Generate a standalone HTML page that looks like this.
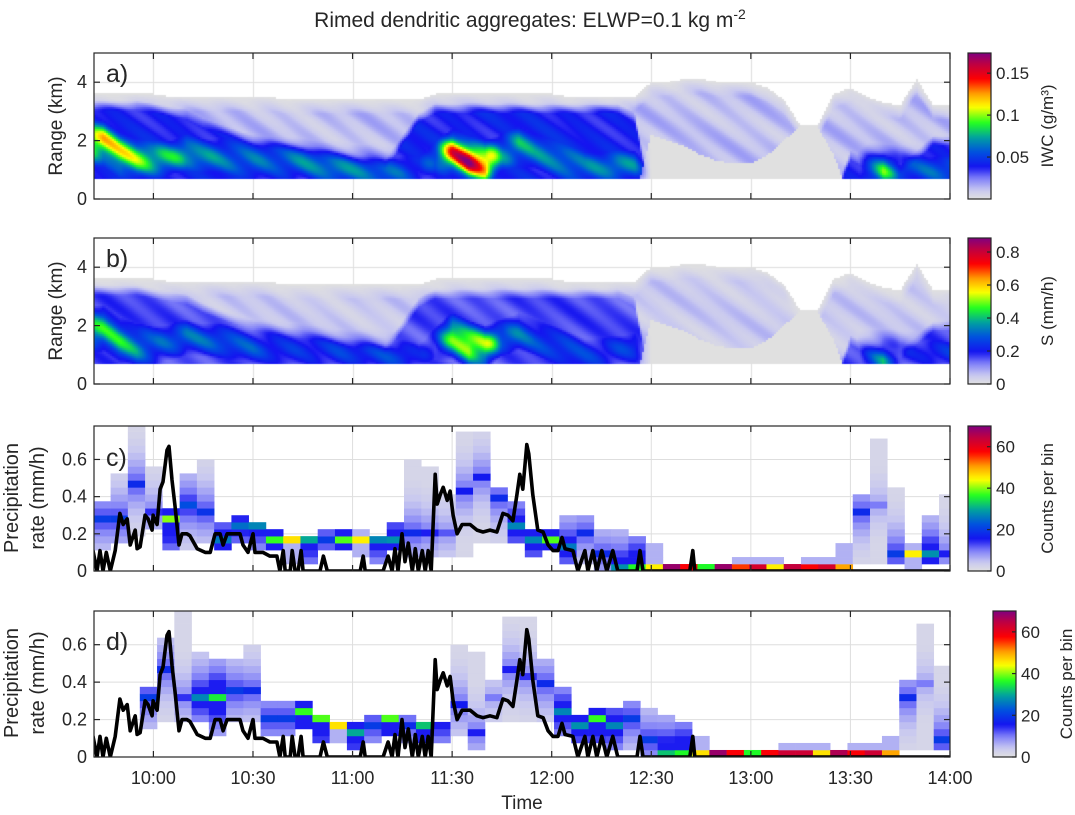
<!DOCTYPE html>
<html><head><meta charset="utf-8"><style>
body{margin:0;background:#fff;}
#wrap{position:relative;width:1075px;height:815px;overflow:hidden;font-family:"Liberation Sans",Arial,sans-serif;}
canvas{position:absolute;}
svg{position:absolute;left:0;top:0;}
text{font-family:"Liberation Sans",Arial,sans-serif;fill:#262626;}
</style></head><body>
<div id="wrap">
<canvas id="ca" width="856" height="146" style="left:94px;top:53px"></canvas>
<canvas id="cb" width="856" height="146" style="left:94px;top:238px"></canvas>
<svg id="svg" width="1075" height="815"></svg>
</div>
<script>
// ---------- data ----------
const radarT0 = 45, radarDT = 5;
const radarTop = [3.6,3.6,3.6,3.6,3.5,3.5,3.5,3.5,3.5,3.5,3.5,3.4,3.4,3.4,3.4,3.4,3.4,3.4,3.4,3.4,3.6,3.6,3.6,3.6,3.6,3.6,3.6,3.6,3.5,3.5,3.5,3.5,3.5,4.0,4.0,4.1,4.1,4.0,4.0,4.0,3.8,3.4,2.5,2.5,3.6,3.8,3.5,3.3,3.2,4.1,3.2];
const radarBlueTop = [3.2,3.2,3.2,3.1,3.0,2.9,2.6,2.4,2.2,2.0,1.9,1.8,1.7,1.6,1.5,1.4,1.3,1.2,2.0,2.8,3.1,3.1,3.1,3.1,3.1,3.1,3.1,3.1,3.1,3.1,3.1,3.1,2.8,0,0,0,0,0,0,0,0,0,0,0,0,1.5,1.2,1.0,1.0,1.5,2.0];
const radarLowGray = [0,0,0,0,0,0,0,0,0,0,0,0,0,0,0,0,0,0,0,0,0,0,0,0,0,0,0,0,0,0,0,0,0,2.2,2.0,1.8,1.5,1.3,1.2,1.2,1.5,2.0,2.5,2.5,1.5,0,0,0,0,0,0];
const radarPeak = [0.11,0.105,0.09,0.07,0.06,0.06,0.055,0.055,0.055,0.055,0.05,0.05,0.05,0.05,0.05,0.045,0.045,0.045,0.045,0.035,0.045,0.12,0.145,0.12,0.06,0.07,0.06,0.06,0.06,0.055,0.05,0.05,0.045,0,0,0,0,0,0,0,0,0,0,0,0,0,0.045,0.09,0.04,0.035,0.04];
const radarPeakH = [1.9,1.5,1.3,1.3,1.4,1.6,1.5,1.5,1.4,1.3,1.3,1.2,1.2,1.1,1.0,1.0,1.0,0.9,1.0,1.0,1.4,1.6,1.3,1.2,1.6,1.8,1.6,1.4,1.2,1.0,1.0,1.1,1.2,1,1,1,1,1,1,1,1,1,1,1,1,1,1.0,0.9,1.0,1.0,1.0];

const lineT = [41.8,43.0,43.9,44.8,45.8,47.0,48.5,49.9,50.9,52.1,53.0,54.5,55.1,56.0,57.5,58.4,59.6,59.9,61.1,62.0,62.9,64.1,64.7,65.6,66.5,67.7,68.6,70.1,71.0,73.2,75.6,77.1,78.6,80.1,81.0,82.2,86.1,87.0,88.5,90.0,90.6,93.0,95.1,97.2,98.1,99.1,99.7,101.2,101.8,102.7,103.6,104.5,105.1,110.2,111.2,112.4,122.3,123.2,123.8,129.2,130.7,131.9,132.8,133.7,134.9,135.8,136.8,138.0,138.9,139.8,141.0,141.9,142.8,143.7,144.9,145.5,146.4,147.3,148.5,149.4,150.3,151.5,153.0,155.4,157.5,159.3,161.4,163.5,165.3,166.8,168.3,169.5,170.4,171.3,172.5,173.1,174.3,175.8,177.4,178.9,180.4,181.9,183.1,184.0,186.4,187.9,190.0,190.9,192.4,193.6,195.1,196.6,198.4,199.9,205.7,206.6,207.5,221.6,222.5,223.1,300];
const lineV = [0.11,0,0.11,0,0.1,0,0.11,0.31,0.25,0.28,0.14,0.22,0.12,0.13,0.3,0.28,0.22,0.3,0.25,0.44,0.48,0.65,0.67,0.49,0.35,0.14,0.2,0.2,0.19,0.12,0.1,0.1,0.2,0.2,0.14,0.2,0.2,0.14,0.1,0.2,0.1,0.1,0.08,0.08,0,0.11,0,0,0.11,0,0,0.11,0,0,0.08,0,0,0.08,0,0,0.08,0,0.12,0,0.2,0.05,0.15,0,0.12,0,0.11,0,0.11,0,0.52,0.36,0.41,0.45,0.38,0.43,0.3,0.2,0.25,0.25,0.22,0.21,0.22,0.21,0.31,0.3,0.27,0.41,0.52,0.44,0.68,0.63,0.41,0.22,0.21,0.14,0.11,0.11,0.18,0.12,0.11,0,0.11,0,0.11,0,0.11,0,0.11,0,0,0.11,0,0,0.11,0,0];

const cBinStart = 41.9, binW = 5.2, rowH = 0.0375;
const cLo = [0.13,0.15,0.2,0.24,0.12,0.14,0.16,0.13,0.17,0.13,0.12,0.07,0.07,0.13,0.13,0.1,0.07,0.13,0.1,0.1,0.1,0.1,0.18,0.15,0.15,0.1,0.12,0.07,0.07,0.02,0,0,0,0,0,0,0,0,0,0,0,0,0,0,0.04,0.04,0.04,0,0.04,0.04];
const cHi = [0.34,0.5,0.78,0.55,0.33,0.5,0.59,0.25,0.29,0.25,0.21,0.18,0.18,0.21,0.21,0.21,0.18,0.25,0.59,0.55,0.4,0.74,0.74,0.45,0.34,0.21,0.21,0.27,0.3,0.21,0.21,0.18,0.14,0.03,0.03,0.03,0.03,0.07,0.07,0.07,0.03,0.07,0.07,0.14,0.39,0.7,0.45,0.14,0.3,0.38];
const cMode = [0.29,0.29,0.45,0.32,0.29,0.36,0.31,0.17,0.23,0.23,0.18,0.15,0.15,0.17,0.17,0.15,0.15,0.17,0.21,0.21,0.22,0.43,0.5,0.38,0.25,0.15,0.17,0.13,0.22,0.1,0.01,0.01,0.01,0.01,0.01,0.01,0.01,0.01,0.01,0.01,0.01,0.01,0.01,0.01,0.3,0.35,0.08,0.08,0.08,0.08];
const cCnt = [20,20,18,14,40,22,19,26,25,27,37,46,30,20,38,45,27,28,18,15,12,16,16,18,27,27,38,26,18,18,28,36,45,68,58,36,68,55,62,45,64,58,62,50,18,10,20,45,28,15];

const dBinStart = 40.3;
const dLo = [0,0,0,0.16,0.22,0.22,0.22,0.13,0.22,0.22,0.12,0.12,0.16,0.09,0.09,0.05,0.09,0.12,0.09,0.09,0.09,0.12,0.05,0.22,0.22,0.22,0.22,0.14,0.1,0.1,0.05,0.05,0,0,0,0,0,0,0,0,0,0,0,0,0,0,0,0.04,0.04,0.04];
const dHi = [0,0,0,0.35,0.62,0.78,0.55,0.5,0.5,0.58,0.3,0.3,0.27,0.22,0.18,0.18,0.22,0.22,0.22,0.18,0.18,0.58,0.55,0.39,0.75,0.75,0.5,0.34,0.22,0.25,0.25,0.27,0.24,0.22,0.18,0.1,0.03,0.03,0.03,0.03,0.07,0.07,0.07,0.03,0.07,0.07,0.1,0.38,0.7,0.46];
const dMode = [0,0,0,0.3,0.45,0.3,0.3,0.3,0.37,0.37,0.22,0.22,0.25,0.19,0.16,0.12,0.17,0.19,0.17,0.16,0.19,0.27,0.14,0.3,0.45,0.42,0.38,0.24,0.16,0.2,0.16,0.2,0.1,0.01,0.01,0.01,0.01,0.01,0.01,0.01,0.01,0.01,0.01,0.01,0.01,0.01,0.01,0.3,0.4,0.1];
const dCnt = [0,0,0,20,18,14,27,35,20,18,20,20,37,38,46,30,20,38,18,32,28,16,15,10,15,14,18,27,28,37,27,20,20,32,36,46,68,58,36,58,63,63,46,66,58,63,50,18,10,20];

const timeTickMin = [60,90,120,150,180,210,240,270,300];
const timeTickLab = ["10:00","10:30","11:00","11:30","12:00","12:30","13:00","13:30","14:00"];
const rangeTicks = [0,2,4];
const rateTicks = [0,0.2,0.4,0.6];
const iwcTicks = [0.05,0.1,0.15];
const sTicks = [0,0.2,0.4,0.6,0.8];
const cntTicks = [0,20,40,60];

// ---------- helpers ----------
const T0 = 42.1, T1 = 300, X0 = 94, X1 = 950;
function xs(m){return X0+(m-T0)/(T1-T0)*(X1-X0);}
const stops=[[0,[224,224,224]],[0.06,[200,200,240]],[0.14,[128,128,248]],[0.22,[20,20,240]],[0.32,[0,80,224]],[0.42,[0,160,160]],[0.52,[32,255,32]],[0.63,[255,255,0]],[0.72,[255,160,0]],[0.82,[255,0,0]],[0.92,[192,0,64]],[1,[128,0,128]]];
function cmap(t){t=Math.max(0,Math.min(1,t));for(let i=1;i<stops.length;i++){if(t<=stops[i][0]){const a=stops[i-1],b=stops[i];const f=(t-a[0])/(b[0]-a[0]);return [0,1,2].map(k=>Math.round(a[1][k]+f*(b[1][k]-a[1][k])));}}return stops[stops.length-1][1];}
function rgb(c){return 'rgb('+c[0]+','+c[1]+','+c[2]+')';}
const NS='http://www.w3.org/2000/svg';
const svg=document.getElementById('svg');
function el(tag,attrs,parent){const e=document.createElementNS(NS,tag);for(const k in attrs)e.setAttribute(k,attrs[k]);(parent||svg).appendChild(e);return e;}
function txt(s,x,y,attrs,parent){const e=el('text',Object.assign({x:x,y:y},attrs||{}),parent);e.textContent=s;return e;}
function interp(arr,m){let f=(m-radarT0)/radarDT;if(f<0)f=0;if(f>arr.length-1)f=arr.length-1;const i=Math.floor(f),j=Math.min(i+1,arr.length-1),w=f-i;return arr[i]*(1-w)+arr[j]*w;}

// ---------- radar ----------
function drawRadar(id,scale,vmax,texShift){
  const cv=document.getElementById(id),ctx=cv.getContext('2d');
  const W=856,H=146;ctx.fillStyle='#fff';ctx.fillRect(0,0,W,H);
  ctx.strokeStyle='#dedede';ctx.lineWidth=1;
  timeTickMin.forEach(m=>{const x=Math.round(xs(m)-X0)+0.5;ctx.beginPath();ctx.moveTo(x,0);ctx.lineTo(x,H);ctx.stroke();});
  rangeTicks.forEach(k=>{const y=Math.round(H-k/5*H)+0.5;ctx.beginPath();ctx.moveTo(0,y);ctx.lineTo(W,y);ctx.stroke();});
  const pxPerMin=(X1-X0)/(T1-T0);
  for(let px=0;px<W;px+=2){
    const m=T0+(px+1)/pxPerMin;
    const top=interp(radarTop,m),bt=interp(radarBlueTop,m),lg=interp(radarLowGray,m),pk=interp(radarPeak,m),ph=interp(radarPeakH,m);
    for(let py=0;py<H;py+=2){
      const h=(H-(py+1))/H*5;
      if(h<0.7||h>top)continue;
      const tex=0.6*Math.sin((px+38*h+texShift)/6.5)+0.4*Math.sin(px/23+h*3.1+texShift);
      let v=0;
      if(h>=lg){
        const lav=0.012*(1+0.6*tex)*Math.min(1,(top-h)/0.5);
        const bw=Math.max(0,Math.min(1,(bt-h)/0.35+0.5));
        v=lav*(1-bw)+0.04*(1+0.2*tex)*bw;
      }
      const pv=pk*Math.exp(-Math.pow((h-ph)/0.65,2))*(0.85+0.25*tex);
      v=Math.max(v,v*0.5+pv);
      const c=cmap(v*scale/vmax);
      ctx.fillStyle=rgb(c);ctx.fillRect(px,py,2,2);
    }
  }
}
drawRadar('ca',1,0.174,0);
drawRadar('cb',4.0,0.885,11);

// ---------- svg ----------
const panels={
  a:{y0:53,y1:199,ymax:5,ticks:rangeTicks,lab:'a)',ly:82},
  b:{y0:238,y1:384,ymax:5,ticks:rangeTicks,lab:'b)',ly:267},
  c:{y0:426,y1:571,ymax:0.78,ticks:rateTicks,lab:'c)',ly:466},
  d:{y0:611,y1:757,ymax:0.78,ticks:rateTicks,lab:'d)',ly:650}
};
function ys(p,v){return p.y1-v/p.ymax*(p.y1-p.y0);}
function fmt(v){return v===0?'0':String(v);}

const title=txt('Rimed dendritic aggregates: ELWP=0.1 kg m',530,27,{'text-anchor':'middle','font-size':'21'});

const sup=el('tspan',{dy:'-8','font-size':'14'},title);sup.textContent='-2';

const defs=el('defs',{});
['c','d'].forEach(k=>{const p=panels[k];const cp=el('clipPath',{id:'clip'+k},defs);el('rect',{x:X0,y:p.y0,width:X1-X0,height:p.y1-p.y0},cp);});

function drawGrid(k){const p=panels[k];const g=el('g',{});
  
  timeTickMin.forEach(m=>el('line',{x1:xs(m),x2:xs(m),y1:p.y0,y2:p.y1,stroke:'#dedede','stroke-width':1},g));
  p.ticks.forEach(v=>el('line',{x1:X0,x2:X1,y1:ys(p,v),y2:ys(p,v),stroke:'#dedede','stroke-width':1},g));}
function drawHist(k,start,lo,hi,mode,cnt){
  const p=panels[k];const g=el('g',{'clip-path':'url(#clip'+k+')'});
  
  for(let i=0;i<cnt.length;i++){
    if(cnt[i]<=0)continue;
    const t0=start+i*binW,x=xs(t0),w=xs(t0+binW)-x;
    const rm=Math.floor(mode[i]/rowH);
    const r0=Math.floor(lo[i]/rowH+1e-6),r1=Math.max(r0,Math.ceil(hi[i]/rowH-1e-6)-1);
    const cap=cnt[i]>40?6:15;
    for(let r=r0;r<=r1;r++){
      let c;
      if(r===rm)c=cnt[i];else c=Math.max(2,Math.min(cap,cnt[i]*0.75*Math.exp(-Math.abs(r-rm)/4)));
      const rc=el('rect',{x:x,y:ys(p,(r+1)*rowH),width:w+0.3,height:ys(p,r*rowH)-ys(p,(r+1)*rowH)+0.3,fill:rgb(cmap(c/70))},g);
      
      
    }
  }
}
function drawLine(k){const p=panels[k];let d='';
  for(let i=0;i<lineT.length;i++){d+=(i?'L':'M')+xs(lineT[i]).toFixed(1)+','+ys(p,lineV[i]).toFixed(1);}
  const g=el('g',{'clip-path':'url(#clip'+k+')'});
  const pa=el('path',{d:d,fill:'none',stroke:'#000','stroke-width':3.6,'stroke-linejoin':'round','stroke-linecap':'round'},g);
  }

drawGrid('c');drawGrid('d');
drawHist('c',cBinStart,cLo,cHi,cMode,cCnt);
drawHist('d',dBinStart,dLo,dHi,dMode,dCnt);
drawLine('c');drawLine('d');

Object.keys(panels).forEach(k=>{
  const p=panels[k];const g=el('g',{});
  
  el('rect',{x:X0,y:p.y0,width:X1-X0,height:p.y1-p.y0,fill:'none',stroke:'#262626','stroke-width':1.2},g);
  timeTickMin.forEach(m=>{const x=xs(m);el('line',{x1:x,x2:x,y1:p.y1,y2:p.y1-6,stroke:'#262626','stroke-width':1.2},g);el('line',{x1:x,x2:x,y1:p.y0,y2:p.y0+6,stroke:'#262626','stroke-width':1.2},g);});
  p.ticks.forEach(v=>{const y=ys(p,v);el('line',{x1:X0,x2:X0+6,y1:y,y2:y,stroke:'#262626','stroke-width':1.2},g);el('line',{x1:X1,x2:X1-6,y1:y,y2:y,stroke:'#262626','stroke-width':1.2},g);
    const t=txt(fmt(v),87,y+6,{'text-anchor':'end','font-size':'18'},g);});
  const pl=txt(p.lab,106,p.ly,{'font-size':'25'},g);
});
timeTickMin.forEach((m,i)=>{const t=txt(timeTickLab[i],xs(m),784,{'text-anchor':'middle','font-size':'18'});});
const xt=txt('Time',522,809,{'text-anchor':'middle','font-size':'19'});
[['a',126],['b',311]].forEach(([k,cy])=>{const t=txt('Range (km)',0,0,{'text-anchor':'middle','font-size':'19',transform:'translate(62,'+cy+') rotate(-90)'});});
[['c',498],['d',683]].forEach(([k,cy])=>{
  const t1=txt('Precipitation',0,0,{'text-anchor':'middle','font-size':'20',transform:'translate(18,'+cy+') rotate(-90)'});
  const t2=txt('rate (mm/h)',0,0,{'text-anchor':'middle','font-size':'20',transform:'translate(44,'+cy+') rotate(-90)'});});

const grad=el('linearGradient',{id:'cgrad',x1:0,y1:1,x2:0,y2:0},defs);
for(let i=0;i<=40;i++){el('stop',{offset:(i/40),'stop-color':rgb(cmap(i/40))},grad);}
const cbars=[
  {k:'iwc',x:968,y0:53,y1:199,max:0.174,ticks:iwcTicks,title:'IWC (g/m³)',tx:1053},
  {k:'s',x:968,y0:238,y1:384,max:0.885,ticks:sTicks,title:'S (mm/h)',tx:1053},
  {k:'counts-c',x:968,y0:426,y1:571,max:70,ticks:cntTicks,title:'Counts per bin',tx:1053},
  {k:'counts-d',x:993,y0:611,y1:757,max:70,ticks:cntTicks,title:'Counts per bin',tx:1072}
];
cbars.forEach(cb=>{
  const g=el('g',{});
  el('rect',{x:cb.x,y:cb.y0,width:23,height:cb.y1-cb.y0,fill:'url(#cgrad)',stroke:'#262626','stroke-width':1.2},g);
  cb.ticks.forEach(v=>{const y=cb.y1-v/cb.max*(cb.y1-cb.y0);el('line',{x1:cb.x+23,x2:cb.x+19,y1:y,y2:y,stroke:'#262626','stroke-width':1.2},g);
    const t=txt(fmt(v),cb.x+28,y+6,{'font-size':'17'},g);});
  const tt=txt(cb.title,0,0,{'text-anchor':'middle','font-size':'17',transform:'translate('+cb.tx+','+((cb.y0+cb.y1)/2)+') rotate(-90)'},g);
  
});
</script>
</body></html>
